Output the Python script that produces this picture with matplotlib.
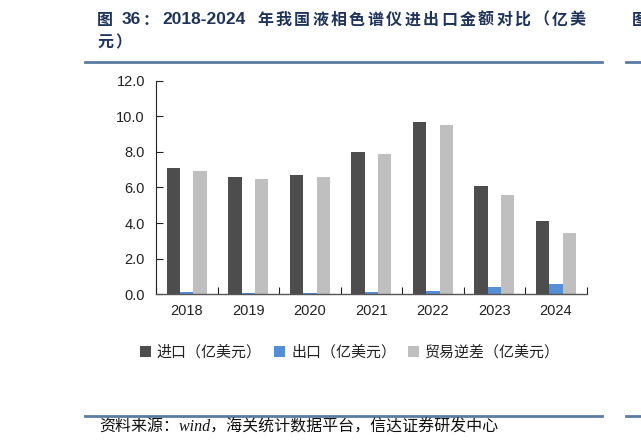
import numpy as np
import matplotlib
matplotlib.use("Agg")
import matplotlib.pyplot as plt
from matplotlib.patches import Patch

plt.rcParams['font.family'] = ['Liberation Sans', 'Noto Sans CJK SC', 'DejaVu Sans']

# 数据（亿美元）
years = ['2018', '2019', '2020', '2021', '2022', '2023', '2024']
imports = [7.1, 6.6, 6.7, 8.0, 9.7, 6.1, 4.1]
exports = [0.12, 0.07, 0.07, 0.11, 0.17, 0.42, 0.60]
deficit = [6.95, 6.5, 6.6, 7.9, 9.5, 5.6, 3.45]
series_names = ['进口（亿美元）', '出口（亿美元）', '贸易逆差（亿美元）']
colors = ['#4d4d4d', '#558ed5', '#bfbfbf']
yticks = [0, 2, 4, 6, 8, 10, 12]

W, H = 641, 448
fig = plt.figure(figsize=(W / 100, H / 100), dpi=100)
ax = fig.add_axes([0.2434, 0.3431, 0.6719, 0.4768])

x = np.arange(len(years))
w = 0.217
for i, (vals, col) in enumerate(zip([imports, exports, deficit], colors)):
    ax.bar(x + (i - 1) * w, vals, width=w, color=col, zorder=2)

ax.set_xlim(-0.5, len(years) - 0.5)
ax.set_ylim(0, 12)
ax.set_yticks(yticks)
ax.set_yticklabels([f'{v:.1f}' for v in yticks], fontsize=10.5, color='#222222')
ax.set_xticks(x)
ax.set_xticklabels(years, fontsize=10.5, color='#222222')
ax.tick_params(axis='x', length=0, pad=7)
ax.set_xticks(np.arange(len(years) + 1) - 0.5, minor=True)
ax.tick_params(axis='x', which='minor', direction='in', length=5, width=0.8, color='#222222')
ax.tick_params(axis='y', direction='in', length=5, width=0.8, color='#222222', pad=8)

for s in ['top', 'right']:
    ax.spines[s].set_visible(False)
ax.spines['left'].set_color('#222222')
ax.spines['left'].set_linewidth(0.8)
ax.spines['bottom'].set_color('#555555')
ax.spines['bottom'].set_linewidth(1.0)

handles = [Patch(facecolor=c, edgecolor='none') for c in colors]
fig.legend(handles, series_names, loc='center', bbox_to_anchor=(350 / W, 1 - 352 / H), ncol=3,
           frameon=False, fontsize=10.8, handlelength=0.75, handleheight=0.75,
           handletextpad=0.4, columnspacing=0.8, labelcolor='#222222')

# 标题（中文字符间距较宽，逐字排布）
title_color = '#1f3458'
tkw = dict(fontsize=11.5, fontweight='bold', color=title_color, va='center', ha='left')
nkw = dict(tkw, fontsize=12.5)
fig.text(97 / W, 1 - 20 / H, '图', **tkw)
fig.text(122 / W, 1 - 20 / H, '36', **nkw)
fig.text(143 / W, 1 - 20 / H, '：', **tkw)
fig.text(162 / W, 1 - 20 / H, '2018-2024', **nkw)
for k, ch in enumerate('年我国液相色谱仪进出口金额对比（亿美'):
    fig.text((257 + 18.4 * k) / W, 1 - 20 / H, ch, **tkw)
for k, ch in enumerate('元）'):
    fig.text((97 + 18.4 * k) / W, 1 - 43 / H, ch, **tkw)
fig.text(632 / W, 1 - 20 / H, '图', **tkw)

rule_color = '#5a7ca3'
for yy in (62, 416):
    fig.add_artist(plt.Line2D([85 / W, 602 / W], [1 - yy / H] * 2, color=rule_color, lw=2))
    fig.add_artist(plt.Line2D([626 / W, 1.0], [1 - yy / H] * 2, color=rule_color, lw=2))

fig.text(99 / W, 1 - 428 / H, '资料来源：wind，海关统计数据平台，信达证券研发中心',
         family=['Liberation Serif', 'Noto Sans CJK SC'], style='italic',
         fontsize=11.5, color='#111111', va='center', ha='left')

fig.savefig('out.png', dpi=100)
